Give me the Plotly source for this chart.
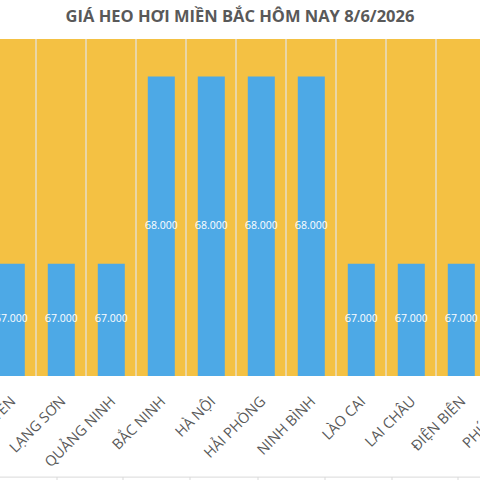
import plotly.graph_objects as go

title = "GIÁ HEO HƠI MIỀN BẮC HÔM NAY 8/6/2026"
provinces = ["THÁI NGUYÊN", "LẠNG SƠN", "QUẢNG NINH", "BẮC NINH", "HÀ NỘI",
             "HẢI PHÒNG", "NINH BÌNH", "LÀO CAI", "LAI CHÂU", "ĐIỆN BIÊN", "PHÚ THỌ"]
prices = [67000, 67000, 67000, 68000, 68000, 68000, 68000, 67000, 67000, 67000, 67000]
labels = [f"{p:,}".replace(",", ".") for p in prices]

Y_MIN, Y_MAX = 66400, 68200
X_MIN, X_MAX = -0.226, 9.374

YELLOW = "#F4C143"
BLUE = "#4DA9E6"
GRID = "#EAD6A6"
TXT = "#595959"
LBL_SIZE = 14.5

fig = go.Figure()
fig.add_trace(go.Bar(
    x=provinces, y=prices, marker=dict(color=BLUE, line=dict(width=0)),
    hoverinfo="skip",
))
fig.add_trace(go.Scatter(
    x=provinces, y=[(Y_MIN + p) / 2 for p in prices], mode="text", text=labels,
    textfont=dict(family="Open Sans", size=10.5, color="white"), hoverinfo="skip",
    cliponaxis=True,
))

# label of the category beyond the visible range (partly shown at right edge)
last = len(provinces) - 1
fig.add_annotation(
    x=(last - X_MIN) / (X_MAX - X_MIN), xref="paper", y=0, yref="paper",
    text=provinces[last], showarrow=False, textangle=-45,
    xanchor="right", yanchor="top", yshift=-14, xshift=8,
    font=dict(family="Open Sans", size=LBL_SIZE, color=TXT),
)

shapes = [dict(type="line", xref="paper", yref="paper", x0=-0.1, x1=1.1,
               y0=-0.30, y1=-0.30, line=dict(color="#D9D9D9", width=1))]
for px in [57, 123, 190, 258, 325, 392, 458]:
    shapes.append(dict(type="line", xref="paper", yref="paper", x0=px / 480, x1=px / 480,
                       y0=-0.30, y1=-0.32, line=dict(color="#D9D9D9", width=1)))

fig.update_layout(
    width=480, height=480,
    margin=dict(l=0, r=0, t=39, b=104, autoexpand=False),
    paper_bgcolor="white", plot_bgcolor=YELLOW,
    showlegend=False, bargap=0.46,
    title=dict(text=f"<b>{title}</b>", x=0.5, xanchor="center", y=1 - 16 / 480,
               yanchor="middle", yref="container",
               font=dict(family="Open Sans", size=16.5, color=TXT)),
    xaxis=dict(type="category", range=[X_MIN, X_MAX], tickangle=-45, automargin=False,
               tickson="boundaries", showgrid=True, gridcolor=GRID, gridwidth=1.5,
               ticks="", showline=False, zeroline=False, ticklabelstandoff=13,
               tickfont=dict(family="Open Sans", size=LBL_SIZE, color=TXT)),
    yaxis=dict(range=[Y_MIN, Y_MAX], showgrid=False, showticklabels=False,
               zeroline=False, showline=False, ticks="", automargin=False),
    shapes=shapes,
)

fig.write_html("out.html")
